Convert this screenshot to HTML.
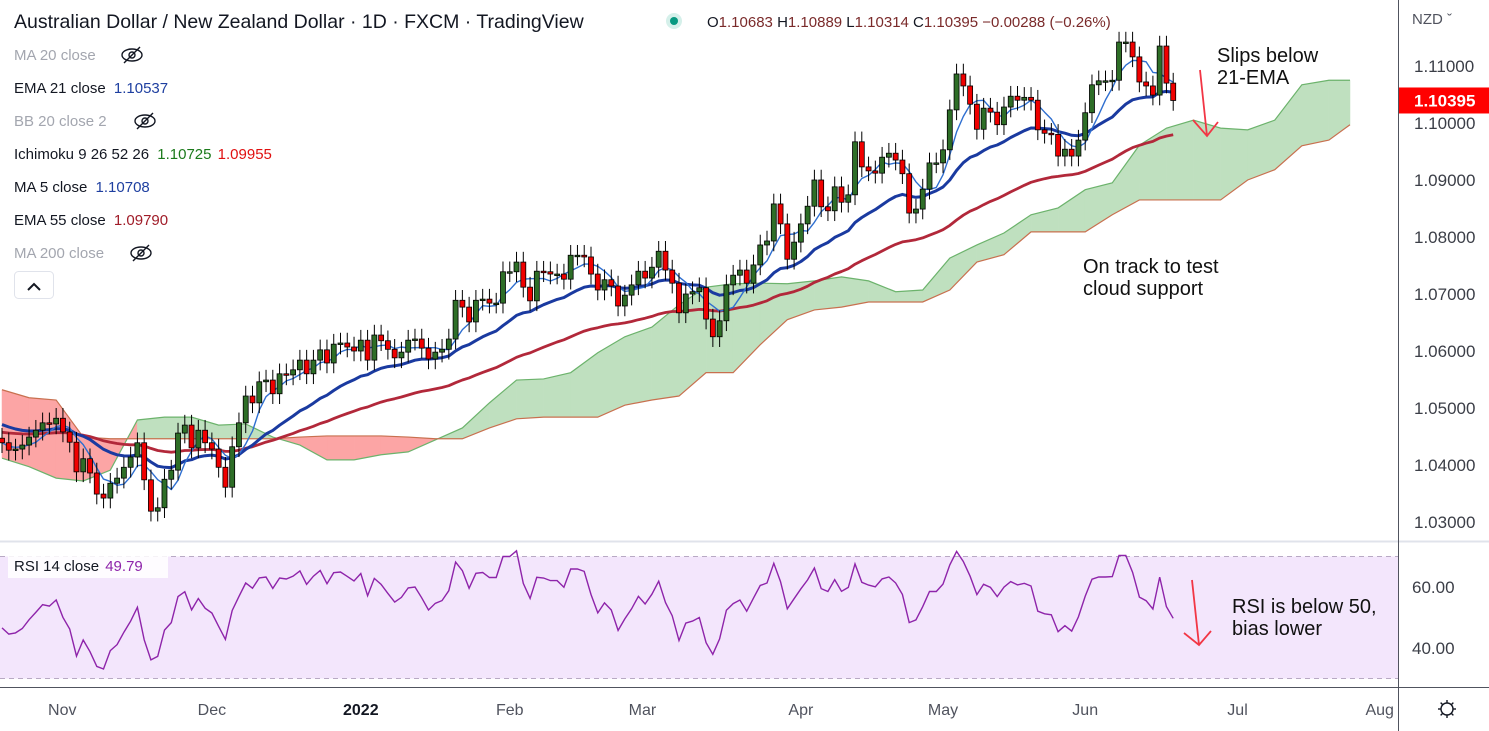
<!DOCTYPE html>
<html><head><meta charset="utf-8"><style>
html,body{margin:0;padding:0;background:#fff;overflow:hidden}
svg{display:block;font-family:"Liberation Sans","DejaVu Sans",sans-serif}
</style></head><body>
<svg id="c" width="1489" height="731" viewBox="0 0 1489 731" xmlns="http://www.w3.org/2000/svg">
<rect x="0" y="0" width="1489" height="731" fill="#ffffff"/>
<g id="cloud"></g>
<g id="lines"></g>
<g id="candles"></g>
<g id="rsi"></g>
<g id="axes"></g>
<g>
<text x="1217" y="62" font-size="20" fill="#111">Slips below</text>
<text x="1217" y="84" font-size="20" fill="#111">21-EMA</text>
<path d="M1200,70 L1207,136 M1193,120 L1207,136 L1218,122" stroke="#f23645" stroke-width="1.8" fill="none"/>
<text x="1083" y="273" font-size="20" fill="#111">On track to test</text>
<text x="1083" y="295" font-size="20" fill="#111">cloud support</text>
<text x="1232" y="613" font-size="20" fill="#111">RSI is below 50,</text>
<text x="1232" y="635" font-size="20" fill="#111">bias lower</text>
<path d="M1192,580 L1199,645 M1184,633 L1199,645 L1211,631" stroke="#f23645" stroke-width="1.8" fill="none"/>
</g>
<g font-size="15">
<text x="14" y="28" font-size="19.5" fill="#131722">Australian Dollar / New Zealand Dollar · 1D · FXCM · TradingView</text>
<circle cx="674" cy="21" r="8" fill="#d5f0ea"/><circle cx="674" cy="21" r="4" fill="#089981"/>
<text x="707" y="27" fill="#131722">O<tspan fill="#7a2a2a">1.10683</tspan> H<tspan fill="#7a2a2a">1.10889</tspan> L<tspan fill="#7a2a2a">1.10314</tspan> C<tspan fill="#7a2a2a">1.10395</tspan> <tspan fill="#7a2a2a">−0.00288 (−0.26%)</tspan></text>
<text x="14" y="60" fill="#a3a6af">MA 20 close</text>
<text x="14" y="93" fill="#131722">EMA 21 close <tspan fill="#1e3fa0" dx="4">1.10537</tspan></text>
<text x="14" y="126" fill="#a3a6af">BB 20 close 2</text>
<text x="14" y="159" fill="#131722">Ichimoku 9 26 52 26 <tspan fill="#1b7a1b" dx="4">1.10725</tspan> <tspan fill="#e01010" dx="2">1.09955</tspan></text>
<text x="14" y="192" fill="#131722">MA 5 close <tspan fill="#1e3fa0" dx="4">1.10708</tspan></text>
<text x="14" y="225" fill="#131722">EMA 55 close <tspan fill="#a01c28" dx="4">1.09790</tspan></text>
<text x="14" y="258" fill="#a3a6af">MA 200 close</text>
<g fill="none" stroke="#131722" stroke-width="1.4">
<ellipse cx="132" cy="55" rx="10" ry="6"/><circle cx="132" cy="55" r="3"/><line x1="124" y1="63" x2="140" y2="47"/>
<ellipse cx="145" cy="121" rx="10" ry="6"/><circle cx="145" cy="121" r="3"/><line x1="137" y1="129" x2="153" y2="113"/>
<ellipse cx="141" cy="253" rx="10" ry="6"/><circle cx="141" cy="253" r="3"/><line x1="133" y1="261" x2="149" y2="245"/>
</g>
<rect x="14.5" y="271.5" width="39" height="27" rx="4" fill="#fff" stroke="#e0e3eb"/>
<path d="M28,290 L34,284 L40,290" stroke="#131722" stroke-width="2" fill="none"/>
</g>
</svg>
<script>
// ---- data ----
const closes = [1.0439,1.0426,1.0428,1.0435,1.0449,1.0461,1.0474,1.0472,1.0482,1.0458,
1.0440,1.0388,1.0411,1.0386,1.0349,1.0342,1.0368,1.0377,1.0396,1.0414,
1.0439,1.0374,1.0319,1.0325,1.0375,1.0391,1.0456,1.0470,1.0430,1.0461,
1.0439,1.0428,1.0396,1.0361,1.0432,1.0474,1.0521,1.0509,1.0546,1.0549,
1.0525,1.0560,1.0558,1.0567,1.0584,1.0560,1.0584,1.0602,1.0579,1.0612,
1.0614,1.0607,1.0600,1.0619,1.0584,1.0628,1.0618,1.0603,1.0588,1.0598,
1.0619,1.0621,1.0605,1.0586,1.0598,1.0603,1.0621,1.0689,1.0677,1.0651,
1.0689,1.0691,1.0684,1.0684,1.0739,1.0739,1.0756,1.0712,1.0688,1.0740,
1.0739,1.0735,1.0735,1.0726,1.0768,1.0768,1.0765,1.0735,1.0707,1.0725,
1.0714,1.0679,1.0698,1.0716,1.0740,1.0728,1.0747,1.0775,1.0742,1.0719,
1.0667,1.0700,1.0704,1.0711,1.0656,1.0625,1.0653,1.0716,1.0733,1.0742,
1.0719,1.0751,1.0786,1.0793,1.0858,1.0823,1.0761,1.0791,1.0823,1.0854,
1.0900,1.0853,1.0846,1.0888,1.0861,1.0874,1.0967,1.0923,1.0916,1.0912,
1.0940,1.0947,1.0935,1.0911,1.0842,1.0849,
1.0884,1.0930,1.0930,1.0953,1.1023,1.1086,1.1065,1.1033,1.0989,1.1026,
1.1019,1.0997,1.1028,1.1047,1.1040,1.1045,1.1040,1.0988,1.0982,1.0980,
1.0942,1.0954,1.0942,1.0970,1.1018,1.1067,1.1074,1.1074,1.1075,1.1142,
1.1142,1.1116,1.1072,1.1065,1.1049,1.1135,1.1070,1.10395];
const firstOpen = 1.0447;
const wick = 0.0018;
const spanA = [1.0412,1.0397,1.0377,1.0372,1.0391,1.0479,1.0484,1.0484,1.0470,1.0472,1.0449,1.0435,1.0409,1.0409,1.0418,1.0423,1.0444,1.0465,1.0509,1.0549,1.0551,1.0562,1.0597,1.0625,1.0642,1.0681,1.0712,1.0718,1.0719,1.0718,1.0723,1.0730,1.0723,1.0704,1.0707,1.0763,1.0786,1.0807,1.0839,1.0851,1.0883,1.0895,1.0961,1.0991,1.1005,1.0991,1.0988,1.1005,1.1067,1.1075,1.1075];
const spanB = [1.0532,1.0518,1.0514,1.0449,1.0446,1.0446,1.0446,1.0446,1.0446,1.0446,1.0446,1.0449,1.0451,1.0451,1.0451,1.0449,1.0446,1.0446,1.0465,1.0481,1.0484,1.0484,1.0484,1.0505,1.0514,1.0521,1.0562,1.0562,1.0611,1.0655,1.0672,1.0677,1.0686,1.0686,1.0686,1.0707,1.0756,1.0769,1.0809,1.0809,1.0809,1.0839,1.0865,1.0865,1.0865,1.0865,1.0900,1.0918,1.0960,1.0970,1.0997];
const spanStep = 4;
const ema21Seed = 1.0474, ema55Seed = 1.0458;
const priceTicks = [1.03,1.04,1.05,1.06,1.07,1.08,1.09,1.10,1.11];
const rsiTicks = [40,60];
const monthLabels = ["Nov","Dec","2022","Feb","Mar","Apr","May","Jun","Jul","Aug"];
const monthBars = [8.9,31,53,75,94.6,118,139,160,182.5,203.5];

// ---- scales ----
const NS="http://www.w3.org/2000/svg";
const X0=2, STEP=6.77;
function xb(i){return X0+i*STEP;}
function yp(p){return 66+(1.11-p)*5700;}
function yr(v){return 587-(v-60)*3.05;}
function mk(tag,attrs,parent){const e=document.createElementNS(NS,tag);for(const k in attrs)e.setAttribute(k,attrs[k]);parent.appendChild(e);return e;}

// ---- cloud ----
const cg=document.getElementById('cloud');
for(let k=0;k<spanA.length-1;k++){
  const x1=xb(k*spanStep), x2=Math.min(xb((k+1)*spanStep),1350);
  const a1=yp(spanA[k]),a2=yp(spanA[k+1]),b1=yp(spanB[k]),b2=yp(spanB[k+1]);
  const green=(spanA[k]+spanA[k+1])>=(spanB[k]+spanB[k+1]);
  const seg=mk('polygon',{points:`${x1},${a1} ${x2},${a2} ${x2},${b2} ${x1},${b1}`,fill:green?'#bfe0bf':'#fca5a5',stroke:green?'#bfe0bf':'#fca5a5','stroke-width':0.5},cg);
  
  
}
let pa='',pb='';
spanA.forEach((v,k)=>{const x=Math.min(xb(k*spanStep),1350);pa+=(k?'L':'M')+x+','+yp(v);});
spanB.forEach((v,k)=>{const x=Math.min(xb(k*spanStep),1350);pb+=(k?'L':'M')+x+','+yp(v);});
const la=mk('path',{d:pa,stroke:'#6cb36c','stroke-width':1.2,fill:'none'},cg);


const lb=mk('path',{d:pb,stroke:'#c8704f','stroke-width':1.2,fill:'none'},cg);



// ---- indicators ----
const n=closes.length;
const opens=closes.map((c,i)=>i?closes[i-1]:firstOpen);
const ma5=closes.map((c,i)=>{const s=closes.slice(Math.max(0,i-4),i+1);return s.reduce((a,b)=>a+b,0)/s.length;});
let e21=[],e55=[];let a=ema21Seed,b=ema55Seed;
closes.forEach((c,i)=>{a=a+(c-a)*2/22;b=b+(c-b)*2/56;e21.push(a);e55.push(b);});
const lg=document.getElementById('lines');
function line(arr,color,w,name){let d='';arr.forEach((v,i)=>{d+=(i?'L':'M')+xb(i).toFixed(1)+','+yp(v).toFixed(1);});const p=mk('path',{d:d,stroke:color,'stroke-width':w,fill:'none','stroke-linejoin':'round'},lg);

}
line(e55,'#b2283a',2.8,'ema55-line');
line(e21,'#1a3aa0',3,'ema21-line');
line(ma5,'#2f6fd0',1.4,'ma5-line');

// ---- candles ----
const kg=document.getElementById('candles');
closes.forEach((c,i)=>{
  const o=opens[i],up=c>=o,x=xb(i);
  const hi=Math.max(o,c)+wick,lo=Math.min(o,c)-wick;
  const col=up?'#2e6e27':'#f00000';
  const w=mk('line',{x1:x,x2:x,y1:yp(hi),y2:yp(lo),stroke:'#000','stroke-width':1},kg);
  
  
  const top=yp(Math.max(o,c)),h=Math.max(1.5,yp(Math.min(o,c))-top);
  const r=mk('rect',{x:x-2.5,y:top,width:5,height:h,fill:col,stroke:'#000','stroke-width':0.8},kg);
  
  
});

// ---- RSI ----
const rg=document.getElementById('rsi');
const bg=mk('rect',{x:0,y:yr(70),width:1398,height:yr(30)-yr(70),fill:'#f3e6fc'},rg);


[70,30].forEach(v=>{const l=mk('line',{x1:0,x2:1398,y1:yr(v),y2:yr(v),stroke:'#b8a9c4','stroke-dasharray':'5,4','stroke-width':1},rg);

});
let ag=0.0011,al=0.0012,rd='';
closes.forEach((c,i)=>{const ch=i?c-closes[i-1]:c-firstOpen;ag=(ag*13+Math.max(ch,0))/14;al=(al*13+Math.max(-ch,0))/14;const r=100-100/(1+ag/al);rd+=(i?'L':'M')+xb(i).toFixed(1)+','+yr(r).toFixed(1);});
const rl=mk('path',{d:rd,stroke:'#8e24aa','stroke-width':1.4,fill:'none'},rg);


mk('rect',{x:8,y:554,width:160,height:24,fill:'#fff','fill-opacity':0.85},rg);
const rt=mk('text',{x:14,y:571,'font-size':15,fill:'#131722'},rg);
rt.textContent='RSI 14 close ';
const rv=mk('tspan',{fill:'#8e24aa',dx:2},rt);rv.textContent='49.79';



// ---- axes ----
const ax=document.getElementById('axes');
mk('line',{x1:0,x2:1489,y1:541.5,y2:541.5,stroke:'#e0e3eb','stroke-width':2},ax);
mk('line',{x1:0,x2:1489,y1:687.5,y2:687.5,stroke:'#50535e','stroke-width':1},ax);
mk('line',{x1:1398.5,x2:1398.5,y1:0,y2:731,stroke:'#50535e','stroke-width':1},ax);
priceTicks.forEach(p=>{const t=mk('text',{x:1414,y:yp(p)+6,'font-size':17,fill:'#3b3e47'},ax);t.textContent=p.toFixed(5);

});
const lastY=yp(closes[n-1]);
const pl=mk('rect',{x:1399,y:lastY-13,width:90,height:26,fill:'#ff0000'},ax);


const plt=mk('text',{x:1414,y:lastY+6,'font-size':17,fill:'#fff','font-weight':'bold'},ax);plt.textContent=closes[n-1].toFixed(5);
const nz=mk('text',{x:1412,y:24,'font-size':15,fill:'#50535e'},ax);nz.textContent='NZD ˇ';


rsiTicks.forEach(v=>{const t=mk('text',{x:1412,y:yr(v)+6,'font-size':17,fill:'#3b3e47'},ax);t.textContent=v.toFixed(2);

});
monthLabels.forEach((m,i)=>{const t=mk('text',{x:xb(monthBars[i]),y:715,'font-size':16,fill:m==='2022'?'#131722':'#50535e','font-weight':m==='2022'?'bold':'normal','text-anchor':'middle'},ax);t.textContent=m;

});
const gear=mk('g',{fill:'none',stroke:'#131722','stroke-width':1.4},ax);


mk('circle',{cx:1447,cy:709,r:6},gear);
for(let k=0;k<8;k++){const an=k*Math.PI/4;mk('line',{x1:1447+6*Math.cos(an),y1:709+6*Math.sin(an),x2:1447+9*Math.cos(an),y2:709+9*Math.sin(an)},gear);}
</script>
</body></html>
